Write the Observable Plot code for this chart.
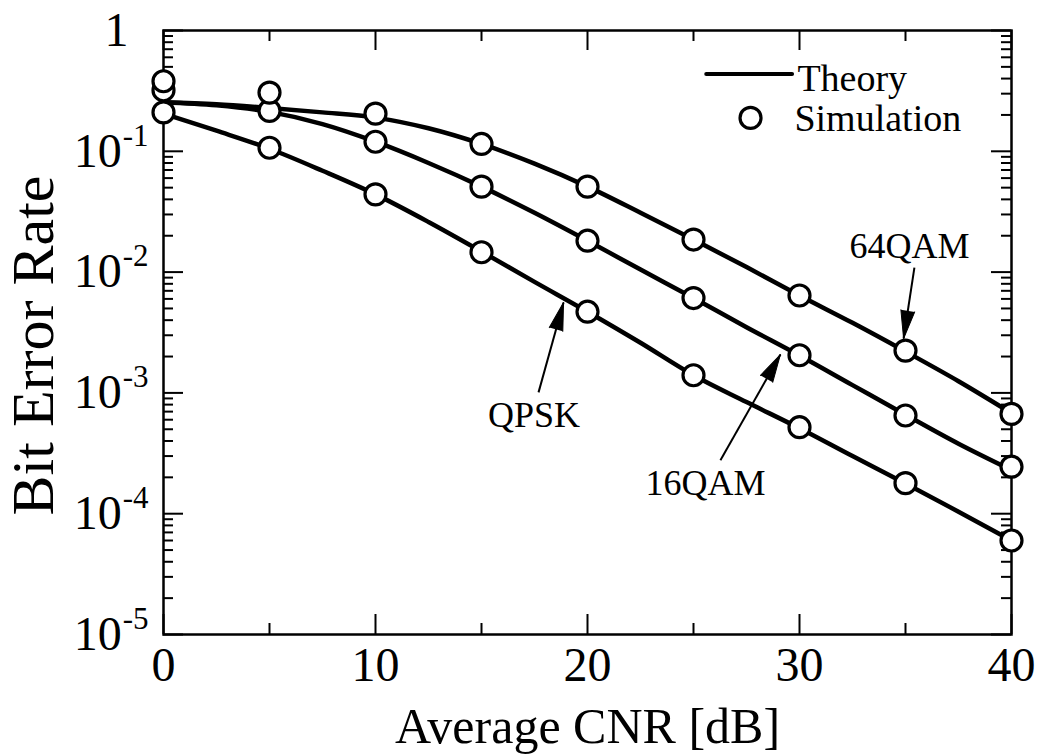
<!DOCTYPE html>
<html><head><meta charset="utf-8">
<script src="https://cdn.jsdelivr.net/npm/d3@7"></script>
<script src="https://cdn.jsdelivr.net/npm/@observablehq/plot@0.6"></script>
<style>body{margin:0;background:#fff;} svg{display:block}</style>
</head><body><div id="chart"></div>
<script>
// ---- data ----
const modulations = ["QPSK", "16QAM", "64QAM"];
const snrSim = [0, 5, 10, 15, 20, 25, 30, 35, 40];
const simQPSK  = [0.21, 0.107, 0.044, 0.0146, 0.0047, 0.0014, 0.00052, 0.000179, 0.00006];
const sim16QAM = [0.32, 0.216, 0.12, 0.051, 0.0182, 0.0061, 0.00205, 0.00065, 0.000245];
const sim64QAM = [0.38, 0.306, 0.205, 0.115, 0.051, 0.0186, 0.0064, 0.00224, 0.00067];

const snrTheory = [0, 2.5, 5, 7.5, 10, 12.5, 15, 17.5, 20, 22.5, 25, 27.5, 30, 32.5, 35, 37.5, 40];
const thQPSK  = [0.205, 0.148, 0.105, 0.069, 0.044, 0.026, 0.0148, 0.0083, 0.0047, 0.0026, 0.0014, 0.00084, 0.00051, 0.0003, 0.000178, 0.000104, 0.00006];
const th16QAM = [0.255, 0.24, 0.212, 0.168, 0.12, 0.08, 0.051, 0.031, 0.0182, 0.0105, 0.0061, 0.0035, 0.00204, 0.00116, 0.00066, 0.00038, 0.00023];
const th64QAM = [0.255, 0.245, 0.228, 0.21, 0.19, 0.155, 0.115, 0.079, 0.051, 0.031, 0.0186, 0.011, 0.0064, 0.0038, 0.0022, 0.00125, 0.00068];

const xTicksMajor = [0, 10, 20, 30, 40];
const xTicksMinor = [5, 15, 25, 35];
const yTicksMajor = [1, 1e-1, 1e-2, 1e-3, 1e-4, 1e-5];
const yTickLabels = ["1", "10^-1", "10^-2", "10^-3", "10^-4", "10^-5"];

const xLabel = "Average CNR [dB]";
const yLabel = "Bit Error Rate";

// annotations (data units)
const annLabels = ["64QAM", "QPSK", "16QAM"];
const annTextX  = [35.19, 17.48, 25.57];
const annTextY  = [0.01625, 0.000652, 0.000179];
const annFromX  = [35.42, 17.69, 26.27];
const annFromY  = [0.0109, 0.00101, 0.000277];
const annToX    = [34.91, 18.87, 29.10];
const annToY    = [0.00282, 0.0056, 0.00208];

// legend (data units)
const legendLabels = ["Theory", "Simulation"];
const legendLineX = [25.6, 29.65];
const legendLineY = 0.437;
const legendDotX = 27.69, legendDotY = 0.189;
const legendTextX = [29.9, 29.76];
const legendTextY = [0.40, 0.185];

// ---- build tables ----
const simSeries = [simQPSK, sim16QAM, sim64QAM];
const thSeries = [thQPSK, th16QAM, th64QAM];
const simRows = [], thRows = [];
modulations.forEach((m, i) => {
  snrSim.forEach((s, j) => simRows.push({mod: m, snr: s, ber: simSeries[i][j]}));
  snrTheory.forEach((s, j) => thRows.push({mod: m, snr: s, ber: thSeries[i][j]}));
});
const annRows = annLabels.map((l, i) => ({label: l, tx: annTextX[i], ty: annTextY[i], fx: annFromX[i], fy: annFromY[i], ex: annToX[i], ey: annToY[i]}));
const legendLineRows = legendLineX.map(x => ({x, y: legendLineY}));
const legendTextRows = legendLabels.map((l, i) => ({label: l, x: legendTextX[i], y: legendTextY[i]}));

const yMinor = d3.scaleLog().domain([1e-5, 1]).ticks().filter(v => !yTicksMajor.some(t => Math.abs(t - v) / t < 1e-9));

const W = 1042, H = 756;
const M = {top: 30, right: 31, bottom: 122, left: 163};
const plotW = W - M.left - M.right, plotH = H - M.top - M.bottom;
const FONT = "'Liberation Serif','Times New Roman',serif";

function build(angles) {
  const marks = [
    Plot.ruleX(xTicksMajor, {insetTop: plotH - 20, strokeWidth: 2}),
    Plot.ruleX(xTicksMajor, {insetBottom: plotH - 20, strokeWidth: 2}),
    Plot.ruleX(xTicksMinor, {insetTop: plotH - 11, strokeWidth: 2}),
    Plot.ruleX(xTicksMinor, {insetBottom: plotH - 11, strokeWidth: 2}),
    Plot.ruleY(yTicksMajor, {insetRight: plotW - 20, strokeWidth: 2}),
    Plot.ruleY(yTicksMajor, {insetLeft: plotW - 20, strokeWidth: 2}),
    Plot.ruleY(yMinor, {insetRight: plotW - 10, strokeWidth: 2}),
    Plot.ruleY(yMinor, {insetLeft: plotW - 10, strokeWidth: 2}),
    Plot.frame({stroke: "black", strokeWidth: 2.5}),
    Plot.axisX({ticks: xTicksMajor, tickSize: 0, tickPadding: 12, fontSize: 48, tickFormat: d => String(d), label: null}),
    Plot.axisY({ticks: yTicksMajor, tickSize: 0, tickPadding: 15, fontSize: 48,
      tickFormat: d => yTickLabels[Math.round(-Math.log10(d))], label: null}),
    Plot.text([xLabel], {frameAnchor: "bottom", textAnchor: "middle", dy: 92, fontSize: 50, lineAnchor: "middle"}),
    Plot.text([yLabel], {frameAnchor: "left", textAnchor: "middle", rotate: -90, dx: -130, dy: 13, fontSize: 60, lineAnchor: "middle"}),
    Plot.line(thRows, {x: "snr", y: "ber", z: "mod", curve: "monotone-x", stroke: "black", strokeWidth: 4.5}),
    Plot.dot(simRows, {x: "snr", y: "ber", r: 10.5, stroke: "black", strokeWidth: 3.2, fill: "white"}),
    Plot.link(annRows, {x1: "fx", y1: "fy", x2: "ex", y2: "ey", stroke: "black", strokeWidth: 2}),
    Plot.text(annRows, {x: "tx", y: "ty", text: "label", fontSize: 36, lineAnchor: "middle"}),
    // legend
    Plot.line(legendLineRows, {x: "x", y: "y", stroke: "black", strokeWidth: 4}),
    Plot.dot([{x: legendDotX, y: legendDotY}], {x: "x", y: "y", r: 10.5, stroke: "black", strokeWidth: 3.2, fill: "white"}),
    Plot.text(legendTextRows, {x: "x", y: "y", text: "label", fontSize: 38, textAnchor: "start", lineAnchor: "middle"})
  ];
  if (angles) {
    marks.push(Plot.vector(annRows, {x: "ex", y: "ey", rotate: (d, i) => angles[i], length: 28, r: 7,
      shape: "spike", anchor: "end", fill: "black", stroke: "black", strokeWidth: 1}));
  }
  return Plot.plot({
    width: W, height: H,
    marginTop: M.top, marginRight: M.right, marginBottom: M.bottom, marginLeft: M.left,
    style: {fontFamily: FONT, background: "white", color: "black", overflow: "visible"},
    x: {domain: [0, 40], label: null},
    y: {type: "log", domain: [1e-5, 1], label: null},
    marks
  });
}

const p0 = build(null);
const sx = p0.scale("x"), sy = p0.scale("y");
const angles = annRows.map(d => {
  const dx = sx.apply(d.ex) - sx.apply(d.fx);
  const dy = sy.apply(d.ey) - sy.apply(d.fy);
  return Math.atan2(dx, -dy) * 180 / Math.PI;
});
const plot = build(angles);

// superscript exponents on y tick labels
const NS = "http://www.w3.org/2000/svg";
plot.querySelectorAll('g[aria-label="y-axis tick label"] text').forEach(t => {
  const s = t.textContent;
  if (s.includes("^")) {
    const [base, exp] = s.split("^");
    t.textContent = "";
    const a = document.createElementNS(NS, "tspan");
    a.textContent = base;
    const b = document.createElementNS(NS, "tspan");
    b.textContent = exp;
    b.setAttribute("font-size", "31");
    b.setAttribute("dy", "-21");
    b.setAttribute("dx", "1");
    t.append(a, b);
  } else {
    t.setAttribute("dx", "-20");
  }
});
document.getElementById("chart").append(plot);
</script>
</body></html>
